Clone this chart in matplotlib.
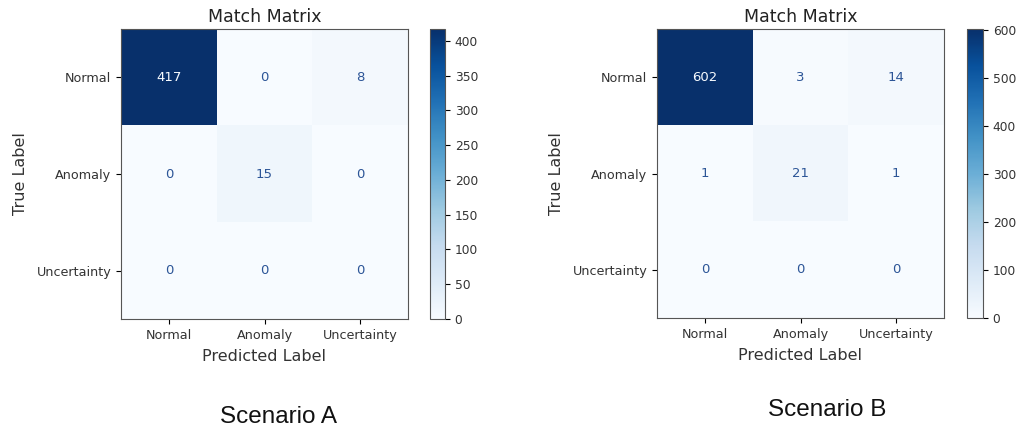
import numpy as np
import matplotlib
matplotlib.use("Agg")
import matplotlib.pyplot as plt

# Etiquetas das classes
classes = ["Normal", "Anomaly", "Uncertainty"]

# Matrizes de confusao dos dois cenarios
cm_a = np.array([[417, 0, 8],
                 [0, 15, 0],
                 [0, 0, 0]])
cm_b = np.array([[602, 3, 14],
                 [1, 21, 1],
                 [0, 0, 0]])

cenarios = ["Scenario A", "Scenario B"]

fig = plt.figure(figsize=(10.18, 4.34), dpi=100)
W, H = 1018, 434

def px(x0, y0, x1, y1):
    # converte caixa em pixels para coordenadas da figura
    return [x0 / W, 1 - y1 / H, (x1 - x0) / W, (y1 - y0) / H]

def matriz(cm, ax_box, cb_box):
    ax = fig.add_axes(px(*ax_box))
    cax = fig.add_axes(px(*cb_box))
    cmap = plt.cm.Blues
    im = ax.imshow(cm, cmap=cmap, interpolation="nearest", vmin=cm.min(), vmax=cm.max(), aspect="auto")
    thresh = (cm.max() + cm.min()) / 2.0
    for i in range(cm.shape[0]):
        for j in range(cm.shape[1]):
            cor = cmap(0) if cm[i, j] > thresh else "#2c5597"
            ax.text(j, i, str(cm[i, j]), ha="center", va="center", color=cor, fontsize=9.5)
    ax.set_xticks(range(len(classes)))
    ax.set_yticks(range(len(classes)))
    ax.set_xticklabels(classes, fontsize=9.2, color="#333333")
    ax.set_yticklabels(classes, fontsize=9.2, color="#333333")
    ax.set_xlabel("Predicted Label", fontsize=11.5, color="#333333", labelpad=5)
    ax.set_ylabel("True Label", fontsize=11.5, color="#333333", labelpad=6)
    ax.set_title("Match Matrix", fontsize=12.5, color="#222222", pad=5)
    for s in ax.spines.values():
        s.set_color("#555555")
    cb = fig.colorbar(im, cax=cax)
    cb.ax.tick_params(labelsize=8.8, labelcolor="#333333")
    cb.outline.set_edgecolor("#555555")
    return ax

matriz(cm_a, (121, 29, 408, 319), (430, 29, 445, 319))
matriz(cm_b, (657, 29, 944, 318), (967, 29, 983, 318))

fig.text(278 / W, 1 - 417 / H, cenarios[0], ha="center", va="center",
         fontsize=17.5, family="Liberation Sans", color="#111111")
fig.text(827 / W, 1 - 410 / H, cenarios[1], ha="center", va="center",
         fontsize=17.5, family="Liberation Sans", color="#111111")

fig.savefig("out.png", dpi=100)
